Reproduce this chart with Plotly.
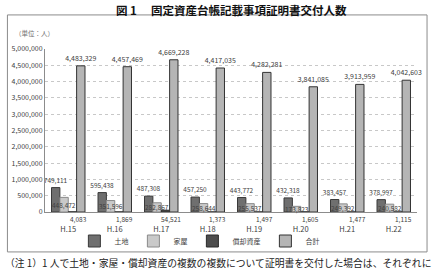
import plotly.graph_objects as go

categories = ["H.15", "H.16", "H.17", "H.18", "H.19", "H.20", "H.21", "H.22"]
land = [749111, 595438, 487308, 457250, 443772, 432318, 383457, 378997]
house = [448472, 351596, 282867, 258644, 255537, 173823, 249392, 240582]
depreciable = [4083, 1869, 54521, 1373, 1497, 1605, 1477, 1115]
total = [4483329, 4457469, 4669228, 4417035, 4282281, 3841085, 3913959, 4042603]
series_names = ["土地", "家屋", "償却資産", "合計"]

FONT = "Noto Sans CJK JP"
fmt = lambda v: f"{v:,}"

bargap = 0.28
n = 4
bw = (1 - bargap) / n

def offset(i):
    return -(1 - bargap) / 2 + (i + 0.5) * bw

fig = go.Figure()
fig.add_trace(go.Bar(name=series_names[0], x=categories, y=land,
                     marker=dict(color="#6f6f6f", line=dict(color="#3a3a3a", width=1)),
                     text=[fmt(v) for v in land], textposition="outside", constraintext="none",
                     textfont=dict(size=6.5, color="#404040", family=FONT), cliponaxis=False))
fig.add_trace(go.Bar(name=series_names[1], x=categories, y=house,
                     marker=dict(color="#c9c9c9", line=dict(color="#8a8a8a", width=1))))
fig.add_trace(go.Bar(name=series_names[2], x=categories, y=depreciable,
                     marker=dict(color="#4d4d4d", line=dict(color="#2a2a2a", width=1))))
fig.add_trace(go.Bar(name=series_names[3], x=categories, y=total,
                     marker=dict(color="#b5b5b5", line=dict(color="#333333", width=1)),
                     text=[fmt(v) for v in total], textposition="outside", constraintext="none",
                     textfont=dict(size=7, color="#404040", family=FONT), cliponaxis=False))

annotations = []
for j, v in enumerate(house):
    annotations.append(dict(x=j + offset(1), y=v / 2, xref="x", yref="y", text=fmt(v),
                            showarrow=False, font=dict(size=6.5, color="#404040", family=FONT)))
for j, v in enumerate(depreciable):
    annotations.append(dict(x=j + offset(2) + 0.12, y=0, xref="x", yref="y", text=fmt(v),
                            showarrow=False, yshift=-7,
                            font=dict(size=6.5, color="#404040", family=FONT)))

# title
annotations.append(dict(x=0.5, y=1.24, xref="paper", yref="paper",
                        text="<b>図 1　 固定資産台帳記載事項証明書交付人数</b>",
                        showarrow=False, xanchor="center", yanchor="middle",
                        font=dict(size=11.5, color="#111111", family=FONT)))
# unit label
annotations.append(dict(x=-0.085, y=1.098, xref="paper", yref="paper", text="（単位：人）",
                        showarrow=False, xanchor="left", yanchor="middle",
                        font=dict(size=6.5, color="#707070", family=FONT)))
# footnote
annotations.append(dict(x=-0.112, y=-0.313, xref="paper", yref="paper",
                        text="（注 1）1 人で土地・家屋・償却資産の複数の複数について証明書を交付した場合は、それぞれに",
                        showarrow=False, xanchor="left", yanchor="middle",
                        font=dict(size=9.8, color="#222222", family=FONT)))

fig.update_layout(
    width=434, height=272,
    margin=dict(l=42, r=17, t=49, b=60),
    paper_bgcolor="white", plot_bgcolor="white",
    barmode="group", bargap=bargap, bargroupgap=0,
    font=dict(family=FONT, color="#404040"),
    showlegend=True,
    legend=dict(orientation="h", x=0.415, xanchor="center", y=-0.178, yanchor="middle",
                font=dict(size=7, color="#404040", family=FONT),
                itemwidth=30, tracegroupgap=0, bgcolor="rgba(0,0,0,0)"),
    annotations=annotations,
    shapes=[dict(type="rect", xref="paper", yref="paper", x0=-0.101, x1=1.027, y0=-0.245, y1=1.209,
                 line=dict(color="#8c8c8c", width=1), fillcolor="rgba(0,0,0,0)", layer="below")],
)
fig.update_xaxes(showline=True, linecolor="#8c8c8c", linewidth=1, ticks="",
                 tickfont=dict(size=7.5, color="#404040", family=FONT),
                 ticklabelstandoff=10, showgrid=False)
fig.update_yaxes(range=[0, 5000000], dtick=500000, tickformat=",", showline=True,
                 linecolor="#8c8c8c", linewidth=1, showgrid=True, gridcolor="#c8c8c8",
                 griddash="dot", gridwidth=1, tickfont=dict(size=7, color="#404040", family=FONT),
                 zeroline=False, ticks="")

fig.write_html("out.html")
